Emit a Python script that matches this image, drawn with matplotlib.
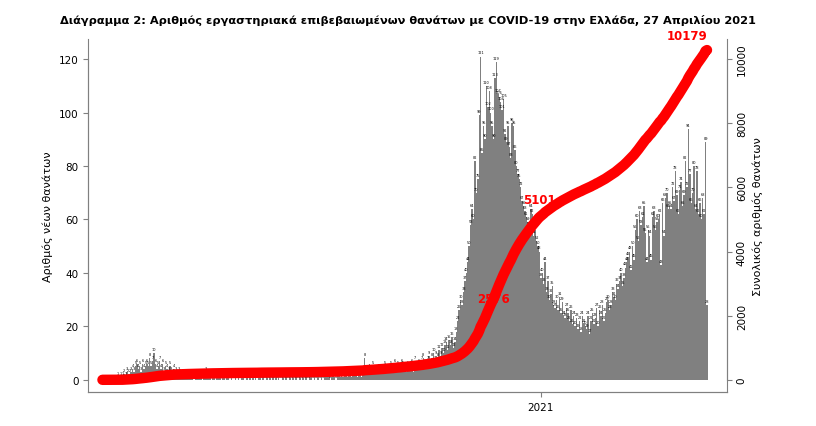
import matplotlib
matplotlib.use("Agg")
import matplotlib.pyplot as plt
import numpy as np
import pandas as pd

mar20 = [0]*11 + [1,0,1,1,2,1,3,2,2,3,4,3,5,6,4,5,3,6,4,5]
apr20 = [6,5,8,5,7,10,6,4,5,7,4,6,3,5,4,3,5,3,2,4,3,2,3,2,1,2,1,2,1,1]
may20 = [1,2,1,0,2,1,1,2,1,0,1,3,1,1,2,0,1,1,0,1,2,1,0,1,1,0,1,2,0,1,0]
jun20 = [0,1,0,1,0,1,1,0,0,1,0,1,0,1,0,1,0,2,1,0,1,0,0,1,0,1,0,1,0,1]
jul20 = [0,1,0,0,1,0,1,0,0,1,0,1,0,1,0,0,1,0,1,0,1,0,0,1,1,0,1,0,2,1,0]
aug20 = [1,0,2,1,1,2,0,1,2,1,0,3,2,1,2,1,3,2,1,2,3,1,2,3,2,1,2,3,1,2,8]
sep20 = [2,3,4,2,3,5,2,3,4,3,2,4,3,5,4,4,3,5,4,3,6,4,5,3,4,6,5,4,3,5]
oct20 = [4,5,6,3,7,5,4,6,5,7,8,6,5,7,9,6,8,10,7,9,8,11,9,12,10,13,14,11,15,13,16]
nov20 = [12,14,18,22,26,30,28,33,37,40,44,50,58,64,60,82,70,75,99,121,85,95,90,110,102,108,100,95,90,113]
dec20 = [119,107,106,104,101,105,92,89,95,87,83,96,95,86,80,77,75,72,67,65,63,61,59,57,64,62,54,56,52,50,48]
jan21 = [38,40,36,44,33,37,30,32,35,28,27,30,26,31,25,29,24,23,27,25,22,26,21,24,20,23,19,22,18,24,21]
feb21 = [20,19,24,17,22,25,21,23,27,20,26,24,28,22,25,29,30,26,28,33,31,30,36,34,37,40,35,38]
mar21 = [42,44,46,48,41,50,45,56,60,52,63,58,61,65,55,44,56,54,45,61,63,56,59,60,62,43,66,54,68,70,64]
apr21 = [65,64,72,67,78,69,62,71,74,65,69,82,72,94,77,66,70,80,64,78,62,66,60,68,62,89,28]

daily = np.array(mar20+apr20+may20+jun20+jul20+aug20+sep20+oct20+nov20+dec20+jan21+feb21+mar21+apr21)
dates = pd.date_range("2020-03-01", periods=len(daily), freq="D")
cum = np.cumsum(daily)
label_dates = ["2020-11-29", "2020-12-31"]
label_values = ["2576", "5101"]
final_label = "10179"

fig = plt.figure(figsize=(8.16, 4.27), dpi=100)
ax = fig.add_axes([0.108, 0.08, 0.783, 0.826])
ax.bar(dates, daily, width=1.0, color="#808080", linewidth=0)
for d, v in zip(dates, daily):
    ax.text(d, v + 0.8, str(v), fontsize=2.5, ha="center", va="bottom", color="black")
ax.set_ylim(-4.5, 127.5)
ax.set_xlim(dates[0] - pd.Timedelta(days=10), dates[-1] + pd.Timedelta(days=14))
ax.set_yticks([0, 20, 40, 60, 80, 100, 120])
ax.set_xticks([pd.Timestamp("2021-01-01")])
ax.set_xticklabels(["2021"])
ax.set_ylabel("Αριθμός νέων θανάτων", fontsize=8)
ax.tick_params(labelsize=7.5, color="#808080")
ax.spines["top"].set_visible(False)
for s in ["left", "bottom", "right"]:
    ax.spines[s].set_color("#808080")
ax.spines["left"].set_bounds(0, 120)

ax2 = ax.twinx()
ax2.plot(dates, cum, color="red", lw=7.5, solid_capstyle="round", zorder=5)
ax2.set_ylim(-4.5 * 10000 / 120, 127.5 * 10000 / 120)
ax2.set_yticks([0, 2000, 4000, 6000, 8000, 10000])
ax2.set_yticklabels(["0", "2000", "4000", "6000", "8000", "10000"], rotation=90, va="center")
ax2.set_ylabel("Συνολικός αριθμός θανάτων", fontsize=8)
ax2.tick_params(labelsize=7.5, color="#808080")
ax2.spines["top"].set_visible(False)
for s in ["left", "bottom", "right"]:
    ax2.spines[s].set_color("#808080")
ax2.spines["right"].set_bounds(0, 10000)
i = dates.get_loc(pd.Timestamp(label_dates[0]))
ax2.text(dates[i], cum[i], label_values[0], color="red", fontsize=8.5, fontweight="bold", ha="center", va="center", zorder=6)
i = dates.get_loc(pd.Timestamp(label_dates[1]))
ax2.text(dates[i], cum[i] + 350, label_values[1], color="red", fontsize=8.5, fontweight="bold", ha="center", va="bottom", zorder=6)
ax2.text(dates[-1], cum[-1] + 250, final_label, color="red", fontsize=8.5, fontweight="bold", ha="right", va="bottom")

fig.suptitle("Διάγραμμα 2: Αριθμός εργαστηριακά επιβεβαιωμένων θανάτων με COVID-19 στην Ελλάδα, 27 Απριλίου 2021",
             fontsize=8.2, fontweight="bold", y=0.965)
fig.savefig("out.png", dpi=100)
